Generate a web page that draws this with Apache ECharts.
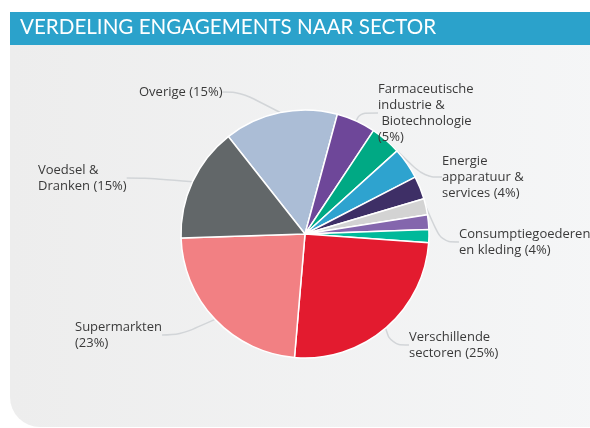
<!DOCTYPE html>
<html>
<head>
<meta charset="utf-8">
<script src="https://cdn.jsdelivr.net/npm/echarts@6/dist/echarts.min.js"></script>
<style>
  html, body { margin: 0; padding: 0; background: #fff; }
  #chart { width: 590px; height: 428px; }
</style>
</head>
<body>
<div id="chart"></div>
<script>
// slices clockwise, starting at the Overige slice (shares in % as drawn)
const sectors = ['Overige', 'Farmaceutische industrie & Biotechnologie', 'Energie apparatuur & services',
  'Consumptiegoederen en kleding', 'Sector 9', 'Sector 10', 'Sector 11', 'Sector 12',
  'Verschillende sectoren', 'Supermarkten', 'Voedsel & Dranken']
const shares = [14.8, 5.1, 4.0, 4.1, 3.0, 2.1, 1.9, 1.7, 25.2, 23.1, 14.9]
const labels = ['Overige (15%)', 'Farmaceutische\nindustrie &\n Biotechnologie\n(5%)', 'Energie\napparatuur &\nservices (4%)',
  'Consumptiegoederen\nen kleding (4%)', '', '', '', '',
  'Verschillende\nsectoren (25%)', 'Supermarkten\n(23%)', 'Voedsel &\nDranken (15%)']
const colors = ['#abbdd6', '#6e4799', '#00a984', '#2ea3cf', '#3e2f66', '#d3d3d3', '#8466ad', '#00b99a',
  '#e31b2f', '#f28083', '#626769']

// where each label block sits (left x, middle y)
const labelPos = [[139, 92], [378, 113], [442, 177], [459, 242], null, null, null, null,
  [409, 345], [75, 335], [38, 178]]

const chart = echarts.init(document.getElementById('chart'))

chart.setOption({
  animation: false,
  title: {
    text: 'VERDELING ENGAGEMENTS NAAR SECTOR',
    left: 20,
    top: 17,
    padding: 0,
    z: 10,
    textStyle: { color: '#fff', fontSize: 20.6, fontWeight: 'normal', fontFamily: 'Lato' }
  },
  graphic: [
    {
      type: 'rect',
      z: -10,
      shape: { x: 10, y: 45, width: 600, height: 382, r: [0, 0, 0, 30] },
      style: {
        fill: new echarts.graphic.LinearGradient(0, 0, 1, 0, [
          { offset: 0, color: '#ededed' },
          { offset: 1, color: '#f5f6f7' }
        ])
      }
    },
    {
      type: 'rect',
      z: -10,
      shape: { x: 10, y: 12, width: 580, height: 33 },
      style: { fill: '#2ba2cb' }
    }
  ],
  series: [{
    type: 'pie',
    center: [305, 234],
    radius: 124,
    startAngle: 128.2,
    clockwise: true,
    avoidLabelOverlap: false,
    itemStyle: { borderColor: '#fff', borderWidth: 1.5 },
    label: {
      color: '#3a3a3a',
      fontFamily: 'Open Sans',
      fontSize: 13,
      lineHeight: 16,
      formatter: p => labels[p.dataIndex]
    },
    labelLine: {
      length: 14,
      length2: 18,
      smooth: 0.4,
      lineStyle: { color: '#d2d5d8', width: 1.5 }
    },
    labelLayout: p => {
      const pos = labelPos[p.dataIndex]
      if (!pos) return {}
      return { x: pos[0], y: pos[1], align: 'left', verticalAlign: 'middle' }
    },
    emphasis: { disabled: true },
    data: sectors.map((name, i) => ({
      name: name,
      value: shares[i],
      itemStyle: { color: colors[i] },
      label: { show: labels[i] !== '' },
      labelLine: { show: labels[i] !== '' }
    }))
  }]
})
</script>
</body>
</html>
